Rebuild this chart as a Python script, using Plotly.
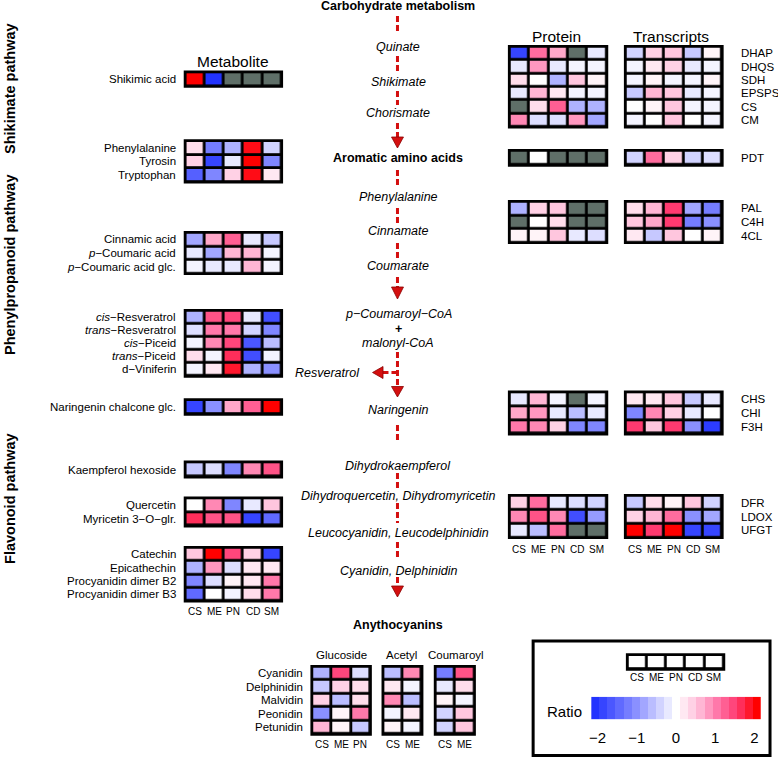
import plotly.graph_objects as go

NA = None
samples = ["CS", "ME", "PN", "CD", "SM"]
antho_gluc_samples = ["CS", "ME", "PN"]
antho_acyl_samples = ["CS", "ME"]

# ---------------- Metabolites ----------------
met_shik_labels = ["Shikimic acid"]
met_shik_vals = [[2.0, -2.0, NA, NA, NA]]

met_aa_labels = ["Phenylalanine", "Tyrosin", "Tryptophan"]
met_aa_vals = [[0.3, -1.2, -0.7, 1.9, -0.4],
               [0.4, -1.8, -0.2, 2.0, -1.1],
               [-1.5, -1.1, 0.4, 1.9, 0.2]]

met_cin_labels = ["Cinnamic acid", "<i>p</i>−Coumaric acid", "<i>p</i>−Coumaric acid glc."]
met_cin_vals = [[-0.8, 0.7, 1.2, -0.2, -0.5],
                [-0.2, -0.8, 0.6, 0.6, -0.1],
                [-0.1, -0.2, -0.2, 0.6, -0.1]]

met_res_labels = ["<i>cis</i>−Resveratrol", "<i>trans</i>−Resveratrol", "<i>cis</i>−Piceid",
                  "<i>trans</i>−Piceid", "d−Viniferin"]
met_res_vals = [[-0.7, 1.3, 1.4, -0.2, -1.7],
                [-0.3, 1.0, 1.0, -0.4, -1.1],
                [-0.1, 0.9, 1.4, -1.6, -0.6],
                [0.3, -0.1, 1.6, -1.7, -0.1],
                [-0.1, 0.2, 1.8, -0.7, -1.0]]

met_nar_labels = ["Naringenin chalcone glc."]
met_nar_vals = [[-1.8, -1.0, 0.7, 1.2, 2.0]]

met_kae_labels = ["Kaempferol hexoside"]
met_kae_vals = [[-0.5, -0.3, -1.1, 0.9, 1.3]]

met_que_labels = ["Quercetin", "Myricetin 3−O−glr."]
met_que_vals = [[0.0, 0.9, -1.1, -0.2, 0.5],
                [1.6, 1.3, 1.3, -1.8, -1.4]]

met_cat_labels = ["Catechin", "Epicathechin", "Procyanidin dimer B2", "Procyanidin dimer B3"]
met_cat_vals = [[0.5, 2.0, 1.4, 0.4, -1.8],
                [-0.7, 0.8, -0.3, 0.2, 0.2],
                [-1.1, -0.3, 0.1, 0.2, 1.0],
                [-1.4, 0.0, -0.1, 0.3, 1.0]]

# ---------------- Genes: protein / transcripts ----------------
gene_shik_labels = ["DHAP", "DHQS", "SDH", "EPSPS", "CS", "CM"]
prot_shik_vals = [[-1.8, 1.1, 0.7, NA, -0.2],
                  [-0.2, 0.8, -0.2, -0.1, -0.1],
                  [0.3, 0.0, -0.7, 0.5, 0.1],
                  [-0.2, 0.6, 0.2, -0.1, -0.1],
                  [NA, 0.3, 1.2, -0.7, -0.7],
                  [0.9, -0.3, -0.3, 0.8, -0.8]]
tran_shik_vals = [[-0.4, 0.4, 0.5, -0.5, 0.1],
                  [-0.1, 0.2, 0.4, -0.2, -0.1],
                  [-0.1, 0.1, -0.1, -0.1, 0.1],
                  [-0.5, 0.6, 0.5, -0.2, -0.1],
                  [0.0, 0.1, 0.5, -0.1, -0.1],
                  [-0.1, 0.0, 0.5, 0.0, -0.1]]

gene_pdt_labels = ["PDT"]
prot_pdt_vals = [[NA, 0.0, NA, NA, NA]]
tran_pdt_vals = [[-0.4, 1.1, 0.4, -0.4, -0.3]]

gene_phe_labels = ["PAL", "C4H", "4CL"]
prot_phe_vals = [[-0.7, 0.4, 0.5, NA, NA],
                 [NA, 0.0, 0.3, NA, NA],
                 [0.1, 0.1, 0.5, -0.2, -0.3]]
tran_phe_vals = [[0.3, 0.6, 1.5, -0.8, -1.2],
                 [0.5, 0.7, 1.5, -1.2, -1.0],
                 [0.2, -0.5, 0.5, 0.0, 0.1]]

gene_fla_labels = ["CHS", "CHI", "F3H"]
prot_fla_vals = [[-0.2, 0.6, -0.1, NA, -0.1],
                 [0.7, 0.8, -0.2, -0.6, -0.2],
                 [1.0, 0.9, 0.4, -1.1, -1.1]]
tran_fla_vals = [[0.2, 0.2, 0.5, -0.5, -0.2],
                 [-1.1, 0.9, 0.4, -0.2, 0.0],
                 [1.5, 0.5, 1.5, -1.0, -1.9]]

gene_ant_labels = ["DFR", "LDOX", "UFGT"]
prot_ant_vals = [[0.4, 1.1, -0.2, -0.3, -0.4],
                 [0.9, 1.3, 0.9, -1.7, -0.9],
                 [-0.2, -0.6, 1.1, NA, NA]]
tran_ant_vals = [[-0.5, 0.3, 0.1, 0.5, -0.4],
                 [0.4, 0.6, 1.1, -1.0, -0.8],
                 [2.0, 1.5, 2.0, -1.8, -1.8]]

# ---------------- Anthocyanins ----------------
antho_labels = ["Cyanidin", "Delphinidin", "Malvidin", "Peonidin", "Petunidin"]
antho_gluc_vals = [[-0.7, 1.4, -0.3],
                   [-0.5, 0.4, 0.3],
                   [0.4, -0.6, 0.3],
                   [-1.0, 0.1, 1.0],
                   [0.6, 0.1, -0.5]]
antho_acet_vals = [[-0.6, 0.9],
                   [0.2, -0.1],
                   [0.9, -0.6],
                   [-0.1, 0.2],
                   [0.1, -0.1]]
antho_coum_vals = [[-1.2, 1.3],
                   [-0.2, 0.3],
                   [0.1, -0.1],
                   [-0.4, 0.5],
                   [-0.4, 0.5]]

legend_example_vals = [[0, 0, 0, 0, 0]]
ratio_steps = [-2.0, -1.8, -1.6, -1.4, -1.2, -1.0, -0.8, -0.6, -0.4, -0.2, 0.0,
               0.2, 0.4, 0.6, 0.8, 1.0, 1.2, 1.4, 1.6, 1.8, 2.0]
ratio_ticks = [-2, -1, 0, 1, 2]
ratio_ticktext = ["−2", "−1", "0", "1", "2"]

pathway_nodes = [
    ("<b>Carbohydrate metabolism</b>", 6),
    ("<i>Quinate</i>", 47),
    ("<i>Shikimate</i>", 81.5),
    ("<i>Chorismate</i>", 113),
    ("<b>Aromatic amino acids</b>", 157.5),
    ("<i>Phenylalanine</i>", 197),
    ("<i>Cinnamate</i>", 231),
    ("<i>Coumarate</i>", 265.5),
    ("<i>p−Coumaroyl−CoA</i>", 314),
    ("<b>+</b>", 328.5),
    ("<i>malonyl-CoA</i>", 343),
    ("<i>Naringenin</i>", 410),
    ("<i>Dihydrokaempferol</i>", 466),
    ("<i>Dihydroquercetin, Dihydromyricetin</i>", 495.5),
    ("<i>Leucocyanidin, Leucodelphinidin</i>", 533),
    ("<i>Cyanidin, Delphinidin</i>", 570.5),
    ("<b>Anythocyanins</b>", 625),
]

# ---------------- styling ----------------
FONT = "Liberation Sans, Arial, Helvetica, sans-serif"
CSCALE = [[0.0, "#2233ff"], [0.125, "#5560ff"], [0.25, "#8a90ff"], [0.375, "#c6c8ff"],
          [0.5, "#ffffff"], [0.625, "#ffc6de"], [0.75, "#ff78aa"], [0.875, "#ff3a70"],
          [1.0, "#ff0000"]]
GRAY = "#5f6f68"
ARROW = "#d40f0f"
W, H = 778, 759
GAP = 2.8
PAD = 1.8

fig = go.Figure()
annotations = []
shapes = []


def txt(x, y, text, size=11.5, xanchor="center", angle=0):
    annotations.append(dict(x=x, y=y, xref="x", yref="y", text=text, showarrow=False,
                            xanchor=xanchor, yanchor="middle", textangle=angle,
                            font=dict(family=FONT, size=size, color="black")))


def add_block(z, left, right, top, bottom):
    nr, nc = len(z), len(z[0])
    dx, dy = (right - left) / nc, (bottom - top) / nr
    shapes.append(dict(type="rect", xref="x", yref="y", x0=left - PAD, x1=right + PAD,
                       y0=top - PAD, y1=bottom + PAD, fillcolor="black", line_width=0,
                       layer="below"))
    fig.add_trace(go.Heatmap(z=z, x0=left + dx / 2, dx=dx, y0=top + dy / 2, dy=dy,
                             colorscale=CSCALE, zmin=-2, zmax=2, showscale=False,
                             xgap=GAP, ygap=GAP, hoverinfo="skip"))
    na = [[1 if v is None else None for v in row] for row in z]
    if any(v is not None for row in na for v in row):
        fig.add_trace(go.Heatmap(z=na, x0=left + dx / 2, dx=dx, y0=top + dy / 2, dy=dy,
                                 colorscale=[[0, GRAY], [1, GRAY]], zmin=0, zmax=1,
                                 showscale=False, xgap=GAP, ygap=GAP, hoverinfo="skip"))
    rows = [top + dy * (i + 0.5) for i in range(nr)]
    cols = [left + dx * (j + 0.5) for j in range(nc)]
    return rows, cols


# Metabolite blocks
ML, MR = 184, 280
met_blocks = [
    (met_shik_labels, met_shik_vals, 72.3, 86),
    (met_aa_labels, met_aa_vals, 141, 181.7),
    (met_cin_labels, met_cin_vals, 232.7, 273.3),
    (met_res_labels, met_res_vals, 310.7, 376),
    (met_nar_labels, met_nar_vals, 400, 414),
    (met_kae_labels, met_kae_vals, 462.3, 476.7),
    (met_que_labels, met_que_vals, 498.3, 525.7),
    (met_cat_labels, met_cat_vals, 547.7, 600.7),
]
for labels, vals, top, bot in met_blocks:
    rows, cols = add_block(vals, ML, MR, top, bot)
    for lab, y in zip(labels, rows):
        txt(176, y, lab, xanchor="right")
for s, x in zip(samples, cols):
    txt(x, 611.5, s, size=10)
txt(231.5, 61.5, "Metabolite", size=15.5)

# Protein / transcript blocks
PL, PR = 509, 606
TL, TR = 625.3, 721.7
gene_blocks = [
    (gene_shik_labels, prot_shik_vals, tran_shik_vals, 46.7, 126.7),
    (gene_pdt_labels, prot_pdt_vals, tran_pdt_vals, 150.7, 165),
    (gene_phe_labels, prot_phe_vals, tran_phe_vals, 201.7, 242.3),
    (gene_fla_labels, prot_fla_vals, tran_fla_vals, 392.3, 433.7),
    (gene_ant_labels, prot_ant_vals, tran_ant_vals, 495.7, 537.3),
]
for labels, pv, tv, top, bot in gene_blocks:
    rows, pcols = add_block(pv, PL, PR, top, bot)
    _, tcols = add_block(tv, TL, TR, top, bot)
    for lab, y in zip(labels, rows):
        txt(739, y, lab, xanchor="left")
for s, x in zip(samples, pcols):
    txt(x, 549, s, size=10)
for s, x in zip(samples, tcols):
    txt(x, 549, s, size=10)
txt(555.5, 36, "Protein", size=15.5)
txt(671, 36, "Transcripts", size=15.5)

# Anthocyanins
AT, AB = 666.7, 734
rows, gcols = add_block(antho_gluc_vals, 311, 369, AT, AB)
_, acols = add_block(antho_acet_vals, 382.3, 420.7, AT, AB)
_, ccols = add_block(antho_coum_vals, 434.7, 473.3, AT, AB)
for lab, y in zip(antho_labels, rows):
    txt(304, y, lab, xanchor="right")
for s, x in zip(antho_gluc_samples, gcols):
    txt(x, 744, s, size=10)
for s, x in zip(antho_acyl_samples, acols):
    txt(x, 744, s, size=10)
for s, x in zip(antho_acyl_samples, ccols):
    txt(x, 744, s, size=10)
txt(340, 655, "Glucoside", size=11.5)
txt(401, 655, "Acetyl", size=11.5)
txt(455, 655, "Coumaroyl", size=11.5)

# Legend box
shapes.append(dict(type="rect", xref="x", yref="y", x0=532.5, x1=770, y0=641, y1=755.5,
                   line=dict(color="black", width=3), fillcolor="rgba(0,0,0,0)"))
_, lcols = add_block(legend_example_vals, 627.3, 723.3, 655, 669)
for s, x in zip(samples, lcols):
    txt(x, 677, s, size=10)
txt(564, 711.5, "Ratio", size=15)

bar_lo, bar_hi = -2.16, 2.16
bar_dx = (bar_hi - bar_lo) / len(ratio_steps)
fig.add_trace(go.Heatmap(z=[ratio_steps], x0=bar_lo + bar_dx / 2, dx=bar_dx, y=[0],
                         colorscale=CSCALE, zmin=-2, zmax=2, showscale=False,
                         xaxis="x2", yaxis="y2", hoverinfo="skip"))

# Pathway text and arrows
CX = 396.5
for text, y in pathway_nodes:
    txt(CX + 1, y, text, size=12.5)
txt(326.5, 372.5, "<i>Resveratrol</i>", size=12.5)

dash_segs = [(16, 34), (56, 72), (91, 105), (123, 137), (170, 186), (208, 223),
             (243, 258), (277, 287), (352, 387), (425, 443), (473, 488), (503, 523),
             (542, 560), (577, 586)]
for y0, y1 in dash_segs:
    shapes.append(dict(type="line", xref="x", yref="y", x0=CX, x1=CX, y0=y0, y1=y1,
                       line=dict(color=ARROW, width=3, dash="6px,3px")))
shapes.append(dict(type="line", xref="x", yref="y", x0=CX, x1=381, y0=372.5, y1=372.5,
                   line=dict(color=ARROW, width=3, dash="6px,3px")))
for top, tip in [(137, 148), (287, 299), (386.5, 397), (586, 597)]:
    shapes.append(dict(type="path", xref="x", yref="y",
                       path=f"M {CX-6},{top} L {CX+6},{top} L {CX},{tip} Z",
                       fillcolor=ARROW, line=dict(color="#8a0000", width=0.8)))
shapes.append(dict(type="path", xref="x", yref="y",
                   path="M 382,366.5 L 382,378.5 L 371.5,372.5 Z",
                   fillcolor=ARROW, line=dict(color="#8a0000", width=0.8)))

# Pathway section titles (rotated)
txt(8, 88, "<b>Shikimate pathway</b>", size=14.5, angle=-90)
txt(8, 265, "<b>Phenylpropanoid pathway</b>", size=14.5, angle=-90)
txt(8, 498, "<b>Flavonoid pathway</b>", size=14.5, angle=-90)

fig.update_layout(
    width=W, height=H, margin=dict(l=0, r=0, t=0, b=0),
    paper_bgcolor="white", plot_bgcolor="white", showlegend=False,
    xaxis=dict(range=[0, W], visible=False, fixedrange=True, domain=[0, 1]),
    yaxis=dict(range=[H, 0], visible=False, fixedrange=True, domain=[0, 1]),
    xaxis2=dict(domain=[590.7 / W, 760.7 / W], range=[bar_lo, bar_hi], anchor="y2",
                tickvals=ratio_ticks, ticktext=ratio_ticktext, ticks="outside", ticklen=5,
                tickcolor="rgba(0,0,0,0)", showgrid=False, zeroline=False, showline=False,
                tickfont=dict(family=FONT, size=15, color="black"), fixedrange=True),
    yaxis2=dict(domain=[1 - 719.3 / H, 1 - 696.7 / H], range=[-0.5, 0.5], anchor="x2",
                visible=False, fixedrange=True),
    annotations=annotations, shapes=shapes,
)

fig.write_html("out.html", config={"displayModeBar": False},
               post_script="document.body.style.margin='0';document.body.style.overflow='hidden';")
